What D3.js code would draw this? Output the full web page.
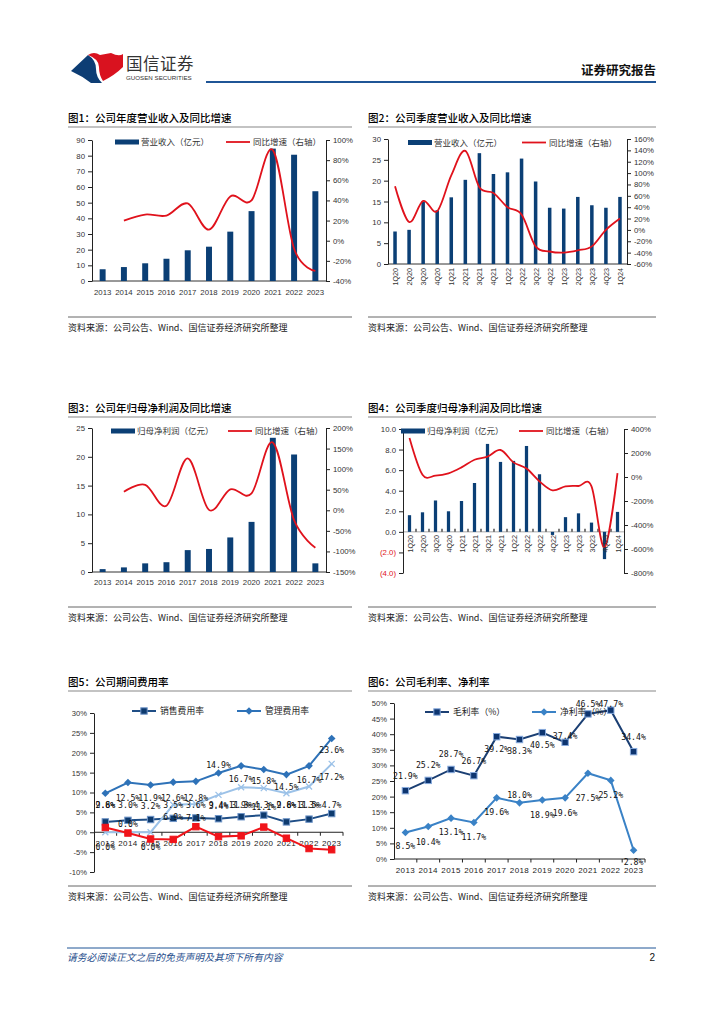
<!DOCTYPE html>
<html>
<head>
<meta charset="utf-8">
<style>
    body { margin: 0; background: #fff; }
    svg { display: block; font-family: 'Liberation Sans', Arial, sans-serif; }
    .cn { font-family: 'Noto Sans CJK SC', sans-serif; }
    .tick text { fill: #333; }
</style>
</head>
<body>
<svg id="page" width="724" height="1024"></svg>
<script src="https://cdn.jsdelivr.net/npm/d3@7"></script>
<script>

//////////////////// data ////////////////////
let years = ['2013', '2014', '2015', '2016', '2017', '2018', '2019', '2020', '2021', '2022', '2023'];
let quarters = ['1Q20', '2Q20', '3Q20', '4Q20', '1Q21', '2Q21', '3Q21', '4Q21', '1Q22', '2Q22', '3Q22', '4Q22', '1Q23', '2Q23', '3Q23', '4Q23', '1Q24'];

// fig1 annual revenue (亿元) + yoy %
let rev_year = [7.5, 8.9, 11.3, 14.2, 19.6, 21.9, 31.5, 44.6, 84.5, 80.6, 57.3];
let rev_year_yoy = [null, 20, 26, 25, 37, 11, 44, 40, 90, -8, -30];
// fig2 quarterly revenue
let rev_q = [7.8, 8.2, 15.0, 12.9, 16.0, 20.2, 26.6, 21.6, 22.0, 25.3, 19.8, 13.5, 13.3, 16.1, 14.1, 13.5, 16.1];
let rev_q_yoy = [77, 14, 51, 33, 96, 139, 75, 65, 40, 27, -29, -38, -40, -36, -29, 0, 20];
// fig3 annual net profit
let np_year = [0.5, 0.8, 1.5, 1.7, 3.8, 4.0, 6.0, 8.7, 23.3, 20.4, 1.5];
let np_year_yoy = [null, 45, 62, 11, 126, 1, 51, 41, 165, -24, -91];
// fig4 quarterly net profit
let np_q = [1.62, 1.9, 3.05, 2.0, 3.0, 4.75, 8.55, 6.8, 6.9, 8.35, 5.6, -0.3, 1.43, 1.8, 0.9, -2.65, 1.94];
let np_q_yoy = [325, 19, 11, 30, 80, 144, 170, 225, 122, 70, -36, -111, -78, -75, -78, -586, 33];
// fig5 expense ratios %
let fee_sales = [2.6, 3.0, 3.2, 3.5, 3.6, 3.4, 3.9, 4.3, 2.6, 3.3, 4.7];
let fee_mgmt = [9.8, 12.5, 11.9, 12.6, 12.8, 14.9, 16.7, 15.8, 14.5, 16.7, 23.6];
let fee_rd = [0.0, 0.0, 0.0, 6.9, 7.1, 9.4, 11.3, 11.1, 9.8, 11.5, 17.2];
let fee_fin = [1.2, -0.2, -1.7, -1.8, 1.4, -1.1, -0.9, 1.3, -1.5, -4.1, -4.4];
// fig6 margins %
let gross_margin = [21.9, 25.2, 28.7, 26.7, 39.2, 38.3, 40.5, 37.4, 46.5, 47.7, 34.4];
let net_margin = [8.5, 10.4, 13.1, 11.7, 19.6, 18.0, 18.9, 19.6, 27.5, 25.2, 2.8];

// axis ticks
let ticks1L = d3.range(0, 91, 10), ticks1R = d3.range(-40, 101, 20);
let ticks2L = d3.range(0, 31, 5), ticks2R = d3.range(-60, 161, 20);
let ticks3L = d3.range(0, 26, 5), ticks3R = d3.range(-150, 201, 50);
let ticks4L = d3.range(-4, 11, 2), ticks4R = d3.range(-800, 401, 200);
let ticks5 = d3.range(-10, 31, 5);
let ticks6 = d3.range(0, 51, 5);

// label placement (px offset from point, layout only)
let dy_mgmt = [12, 15, 13, 16, 17, -8, 13, 12, 12, 14, 12];
let dy_sales = [-17, -15, -14, -13, -13, -13, -12, -10, -17, -14, -9];
let dy_rd = [15, -8, 15, 12, 14, 10, 18, 19, 12, 18, 13];
let dy_gross = [-15, -15, -15, -15, 12, 11, 12, -6, -10, -6, -15];
let dy_net = [14, 15, 14, 15, 14, -8, 15, 15, 25, 15, 12];

//////////////////// style ////////////////////
let NAVY = '#0b3f75';
let RED = '#e0121c';
let svg = d3.select('#page');

//////////////////// page frame ////////////////////
// logo
svg.append('path').attr('fill', '#0d3d74')
    .attr('d', 'M71,71 L88,55 Q96,60 96,69 Q96,77 102,83 L91,83 Q82,76 71,71 Z');
svg.append('path').attr('fill', '#d9121f')
    .attr('d', 'M88,55 Q94,51 100,55 L111,53 Q119,57 123,54 L123,67 Q115,75 103,81 Q99,75 99,67 Q99,59 88,55 Z');
svg.append('text').classed('cn', true).attr('x', 126).attr('y', 70)
    .attr('font-size', 16.5).attr('fill', '#333').attr('letter-spacing', 0.5).text('国信证券');
svg.append('text').attr('x', 126).attr('y', 80)
    .attr('font-size', 6.2).attr('fill', '#333').text('GUOSEN SECURITIES');
svg.append('text').classed('cn', true).attr('x', 656).attr('y', 75).attr('text-anchor', 'end')
    .attr('font-size', 12.5).attr('font-weight', 'bold').attr('fill', '#111').text('证券研究报告');
svg.append('rect').attr('x', 206).attr('y', 81).attr('width', 450).attr('height', 2).attr('fill', '#1f5596');

// footer
svg.append('line').attr('x1', 67).attr('x2', 656).attr('y1', 948).attr('y2', 948)
    .attr('stroke', '#1f5596').attr('stroke-width', 1);
svg.append('text').classed('cn', true).attr('x', 67).attr('y', 961)
    .attr('font-size', 9.8).attr('font-style', 'italic').attr('fill', '#1f4e8c')
    .text('请务必阅读正文之后的免责声明及其项下所有内容');
svg.append('text').attr('x', 655).attr('y', 961).attr('text-anchor', 'end')
    .attr('font-size', 10).attr('fill', '#111').text('2');

// panel titles + source lines
let panels = [
    {x: 68, w: 284, title: '图1：公司年度营业收入及同比增速', ty: 122, sy: 317},
    {x: 368, w: 288, title: '图2：公司季度营业收入及同比增速', ty: 122, sy: 317},
    {x: 68, w: 284, title: '图3：公司年归母净利润及同比增速', ty: 412, sy: 607},
    {x: 368, w: 288, title: '图4：公司季度归母净利润及同比增速', ty: 412, sy: 607},
    {x: 68, w: 284, title: '图5：公司期间费用率', ty: 686, sy: 886},
    {x: 368, w: 288, title: '图6：公司毛利率、净利率', ty: 686, sy: 886}
];
panels.forEach(p => {
    svg.append('text').classed('cn', true).attr('x', p.x).attr('y', p.ty)
        .attr('font-size', 10.5).attr('fill', '#000').attr('font-weight', 500).text(p.title);
    svg.append('line').attr('x1', p.x).attr('x2', p.x + p.w).attr('y1', p.ty + 5).attr('y2', p.ty + 5)
        .attr('stroke', '#888').attr('stroke-width', 1.2);
    svg.append('line').attr('x1', p.x).attr('x2', p.x + p.w).attr('y1', p.sy).attr('y2', p.sy)
        .attr('stroke', '#666').attr('stroke-width', 1);
    svg.append('text').classed('cn', true).attr('x', p.x).attr('y', p.sy + 14)
        .attr('font-size', 9).attr('fill', '#222').text('资料来源：公司公告、Wind、国信证券经济研究所整理');
});

//////////////////// bar + line charts ////////////////////
function comboChart(c) {
    let g = svg.append('g');
    let x = d3.scaleBand().domain(c.cats).range([c.x0, c.x1]).paddingInner(c.pad).paddingOuter(c.pad / 2);
    let yL = d3.scaleLinear().domain([c.ticksL[0], c.ticksL[c.ticksL.length - 1]]).range([c.yB, c.yT]);
    let yR = d3.scaleLinear().domain([c.ticksR[0], c.ticksR[c.ticksR.length - 1]]).range([c.yB, c.yT]);

    // zero / category axis
    g.append('line').attr('x1', c.x0).attr('x2', c.x1).attr('y1', yL(0)).attr('y2', yL(0))
        .attr('stroke', c.zeroColor || '#333').attr('stroke-width', 1);
    if (c.catTicks) {
        g.selectAll('line.ct').data(c.cats.slice(1)).join('line')
            .attr('x1', d => x(d) - x.step() * c.pad / 2).attr('x2', d => x(d) - x.step() * c.pad / 2)
            .attr('y1', yL(0)).attr('y2', yL(0) - 3)
            .attr('stroke', '#222').attr('stroke-width', 1.2);
    }

    g.selectAll('rect.bar').data(c.bars).join('rect')
        .attr('x', (d, i) => x(c.cats[i]))
        .attr('y', d => yL(Math.max(0, d)))
        .attr('width', x.bandwidth())
        .attr('height', d => Math.abs(yL(d) - yL(0)))
        .attr('fill', NAVY);

    let line = d3.line()
        .defined(d => d != null)
        .x((d, i) => x(c.cats[i]) + x.bandwidth() / 2)
        .y(d => yR(d))
        .curve(d3.curveCatmullRom.alpha(0));
    g.append('path').datum(c.yoy).attr('d', line)
        .attr('fill', 'none').attr('stroke', RED).attr('stroke-width', 1.8);

    // axes
    let axL = g.append('g').attr('transform', `translate(${c.x0},0)`)
        .call(d3.axisLeft(yL).tickValues(c.ticksL).tickSize(4).tickSizeOuter(0).tickPadding(3).tickFormat(c.fmtL));
    let axR = g.append('g').attr('transform', `translate(${c.x1},0)`)
        .call(d3.axisRight(yR).tickValues(c.ticksR).tickSize(4).tickSizeOuter(0).tickPadding(3).tickFormat(d => d + '%'));
    [axL, axR].forEach(a => {
        a.selectAll('text').attr('font-size', 7.8).attr('font-family', 'Liberation Sans, Arial, sans-serif');
        a.selectAll('path,line').attr('stroke', '#222');
    });
    if (c.negRed) axL.selectAll('text').filter(d => d < 0).style('fill', RED);

    // category labels
    if (c.rotate) {
        g.selectAll('text.cat').data(c.cats).join('text')
            .attr('transform', d => `translate(${x(d) + x.bandwidth() / 2 + 3},${c.labY}) rotate(-90)`)
            .attr('text-anchor', 'end').attr('font-size', 7.2).attr('fill', '#333').text(d => d);
    } else {
        g.selectAll('text.cat').data(c.cats).join('text')
            .attr('x', d => x(d) + x.bandwidth() / 2).attr('y', c.labY)
            .attr('text-anchor', 'middle').attr('font-size', 7.8).attr('fill', '#333').text(d => d);
    }

    // legend
    let lg = g.append('g').attr('transform', `translate(0,${c.legY})`);
    lg.append('rect').attr('x', c.leg[0]).attr('y', -2.5).attr('width', 24).attr('height', 5).attr('fill', NAVY);
    lg.append('text').classed('cn', true).attr('x', c.leg[0] + 26).attr('y', 3.2)
        .attr('font-size', 8.5).attr('fill', '#333').text(c.barName);
    lg.append('line').attr('x1', c.leg[1]).attr('x2', c.leg[1] + 24).attr('y1', 0).attr('y2', 0)
        .attr('stroke', RED).attr('stroke-width', 1.8);
    lg.append('text').classed('cn', true).attr('x', c.leg[1] + 27).attr('y', 3.2)
        .attr('font-size', 8.5).attr('fill', '#333').text('同比增速（右轴）');
}

comboChart({
    cats: years, bars: rev_year, yoy: rev_year_yoy, x0: 92, x1: 326, yT: 140, yB: 281, pad: 0.72,
    ticksL: ticks1L, ticksR: ticks1R, fmtL: d => d, labY: 295, legY: 142, leg: [115, 226], barName: '营业收入（亿元）'
});
comboChart({
    cats: quarters, bars: rev_q, yoy: rev_q_yoy, x0: 388, x1: 627, yT: 139, yB: 264, pad: 0.75,
    ticksL: ticks2L, ticksR: ticks2R, fmtL: d => d, rotate: true, labY: 268, legY: 142.5, leg: [408, 522], barName: '营业收入（亿元）'
});
comboChart({
    cats: years, bars: np_year, yoy: np_year_yoy, x0: 92, x1: 326, yT: 428, yB: 572, pad: 0.72,
    ticksL: ticks3L, ticksR: ticks3R, fmtL: d => d, labY: 585, legY: 431, leg: [111, 228], barName: '归母净利润（亿元）'
});
comboChart({
    cats: quarters, bars: np_q, yoy: np_q_yoy, x0: 403, x1: 624, yT: 429, yB: 573, pad: 0.75,
    ticksL: ticks4L, ticksR: ticks4R, negRed: true, zeroColor: '#aaa', catTicks: true,
    fmtL: d => d < 0 ? `(${(-d).toFixed(1)})` : d.toFixed(1),
    rotate: true, labY: 535, legY: 431, leg: [401, 519], barName: '归母净利润（亿元）'
});

//////////////////// line charts ////////////////////
function marker(sel, type, color, stroke) {
    if (type == 'square') {
        sel.append('rect').attr('x', -3.2).attr('y', -3.2).attr('width', 6.4).attr('height', 6.4)
            .attr('fill', color).attr('stroke', stroke || color).attr('stroke-width', 1);
    } else if (type == 'diamond') {
        sel.append('path').attr('d', 'M0,-3.8L3.8,0L0,3.8L-3.8,0Z').attr('fill', color);
    } else if (type == 'x') {
        sel.append('path').attr('d', 'M-3,-3L3,3M-3,3L3,-3').attr('stroke', color).attr('stroke-width', 1.3);
    }
}

function lineChart(c) {
    let g = svg.append('g');
    let x = d3.scalePoint().domain(years).range([c.x0, c.x1]).padding(0.5);
    let y = d3.scaleLinear().domain([c.ticks[0], c.ticks[c.ticks.length - 1]]).range([c.yB, c.yT]);

    let ax = g.append('g').attr('transform', `translate(${c.x0},0)`)
        .call(d3.axisLeft(y).tickValues(c.ticks).tickSize(4).tickSizeOuter(0).tickPadding(3).tickFormat(d => d + '%'));
    ax.selectAll('text').attr('font-size', 7.6);
    ax.selectAll('path,line').attr('stroke', '#222');

    g.append('line').attr('x1', c.x0).attr('x2', c.x1).attr('y1', y(0)).attr('y2', y(0)).attr('stroke', '#222');
    g.selectAll('line.ct').data(years.slice(1).concat(['end'])).join('line')
        .attr('x1', (d, i) => x(years[0]) + x.step() * (i + 0.5)).attr('x2', (d, i) => x(years[0]) + x.step() * (i + 0.5))
        .attr('y1', y(0)).attr('y2', y(0) + 3.5).attr('stroke', '#222');
    g.selectAll('text.cat').data(years).join('text')
        .attr('x', d => x(d)).attr('y', c.labY).attr('text-anchor', 'middle')
        .attr('font-size', 8).attr('letter-spacing', 0.4).attr('fill', '#222').text(d => d);

    let line = d3.line().x((d, i) => x(years[i])).y(d => y(d));
    c.series.forEach(s => {
        g.append('path').datum(s.data).attr('d', line)
            .attr('fill', 'none').attr('stroke', s.color).attr('stroke-width', s.width || 2);
        s.data.forEach((v, i) => {
            let m = g.append('g').attr('transform', `translate(${x(years[i])},${y(v)})`);
            marker(m, s.marker, s.mcolor || s.color, s.mstroke);
        });
    });
    c.series.forEach(s => {
        if (!s.dy) return;
        g.selectAll(null).data(s.data).join('text')
            .attr('x', (d, i) => x(years[i])).attr('y', (d, i) => y(d) + s.dy[i] + 3)
            .attr('text-anchor', 'middle').attr('font-family', 'DejaVu Sans Mono, monospace')
            .attr('font-size', 8.2).attr('fill', '#111').text(d => d.toFixed(1) + '%');
    });

    // legend
    let lg = g.append('g').attr('transform', `translate(0,${c.legY})`);
    c.legend.forEach((L, k) => {
        let s = c.series[k];
        lg.append('line').attr('x1', L).attr('x2', L + 24).attr('y1', 0).attr('y2', 0)
            .attr('stroke', s.color).attr('stroke-width', 2);
        marker(lg.append('g').attr('transform', `translate(${L + 12},0)`), s.marker, s.mcolor || s.color, s.mstroke);
        lg.append('text').classed('cn', true).attr('x', L + 28).attr('y', 3.3)
            .attr('font-size', 8.8).attr('fill', '#222').text(s.name);
    });
}

lineChart({
    x0: 94, x1: 343, yT: 713, yB: 872, ticks: ticks5, labY: 846, legY: 711, legend: [132, 237],
    series: [
        {name: '销售费用率', data: fee_sales, color: '#1f4e86', marker: 'square', mcolor: '#0d3a6e', mstroke: '#6f95c8', dy: dy_sales},
        {name: '管理费用率', data: fee_mgmt, color: '#2e72b8', marker: 'diamond', dy: dy_mgmt},
        {name: '研发费用率', data: fee_rd, color: '#9cc2e8', marker: 'x', dy: dy_rd},
        {name: '财务费用率', data: fee_fin, color: '#f0141a', marker: 'square', mcolor: '#f0141a'}
    ]
});

lineChart({
    x0: 394, x1: 645, yT: 703, yB: 859, ticks: ticks6, labY: 873, legY: 712, legend: [425, 532],
    series: [
        {name: '毛利率（%）', data: gross_margin, color: '#1b3f73', marker: 'square', mcolor: '#0d3570', mstroke: '#86a9dc', dy: dy_gross},
        {name: '净利率（%）', data: net_margin, color: '#3a82c6', marker: 'diamond', dy: dy_net}
    ]
});

</script>
</body>
</html>
